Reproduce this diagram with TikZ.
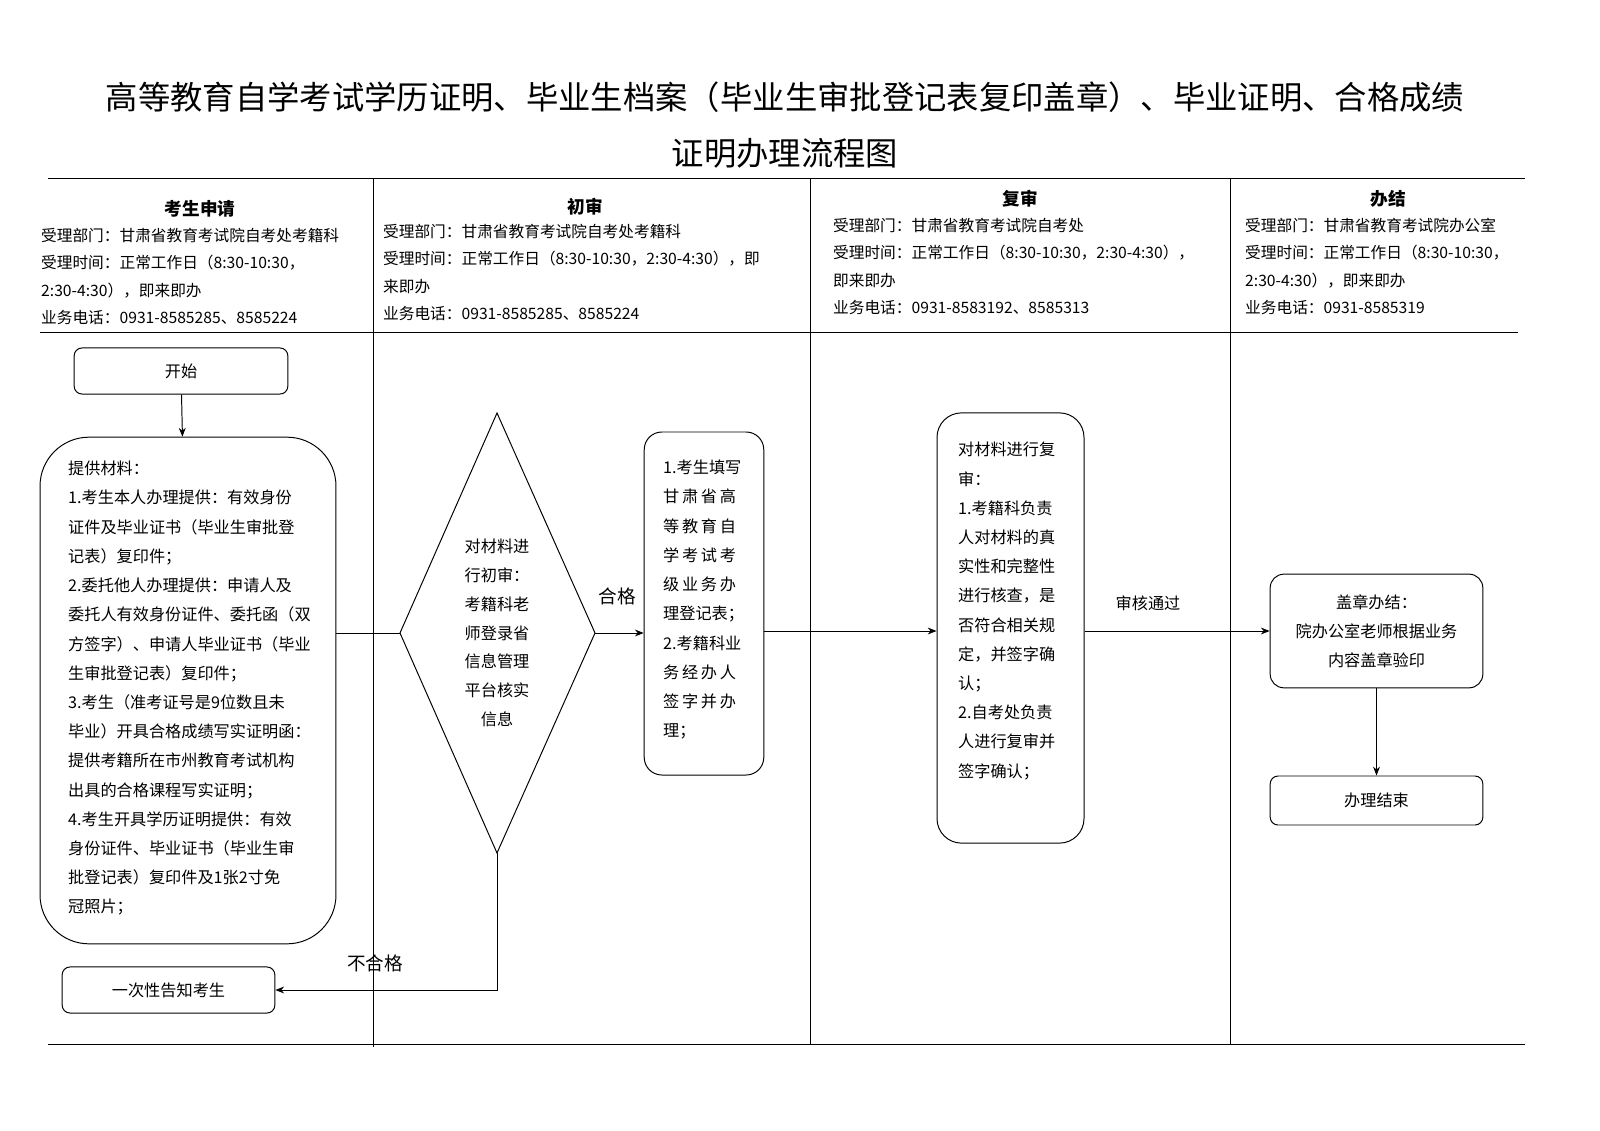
\documentclass[tikz,border=0pt]{standalone}
\usepackage{fontspec}
\setmainfont{Noto Sans CJK SC}
\usetikzlibrary{arrows.meta}
\newcommand{\fsz}[2]{\fontsize{#1}{#2}\selectfont}
\begin{document}
\begin{tikzpicture}[x=1.0204pt,y=-1.0204pt,
  box/.style={draw,line width=1pt,rounded corners=8pt},
  ln/.style={line width=0.9pt},
  arr/.style={line width=1pt,-{Stealth[length=9pt,width=7pt]}},
  body/.style={font=\fsz{16.5}{29.8},align=left,inner sep=0pt},
  col/.style={font=\fsz{16}{28},align=left,inner sep=0pt,anchor=north west},
  hd/.style={font=\fsz{18}{20}\bfseries,inner sep=0pt}]
\node[font=\fsz{33}{36}] (t1) at (785,97) {高等教育自学考试学历证明、毕业生档案（毕业生审批登记表复印盖章）、毕业证明、合格成绩};
\node[font=\fsz{33}{36}] (t2) at (785,153) {证明办理流程图};
\draw[ln] (48,178) -- (1525,178);
\draw[ln] (40,332) -- (1518,332);
\draw[ln] (48,1044) -- (1525,1044);
\draw[ln] (373,178) -- (373,1047);
\draw[ln] (810,178) -- (810,1044);
\draw[ln] (1230,178) -- (1230,1044);
\node[hd] (h1) at (200,209) {考生申请};
\node[hd] (h2) at (585,207) {初审};
\node[hd] (h3) at (1020,199) {复审};
\node[hd] (h4) at (1388,199) {办结};
\node[col] (c1) at (41,228) {受理部门：甘肃省教育考试院自考处考籍科\\受理时间：正常工作日（8:30-10:30，\\2:30-4:30），即来即办\\业务电话：0931-8585285、8585224};
\node[col] (c2) at (383,224) {受理部门：甘肃省教育考试院自考处考籍科\\受理时间：正常工作日（8:30-10:30，2:30-4:30），即\\来即办\\业务电话：0931-8585285、8585224};
\node[col] (c3) at (833,218) {受理部门：甘肃省教育考试院自考处\\受理时间：正常工作日（8:30-10:30，2:30-4:30），\\即来即办\\业务电话：0931-8583192、8585313};
\node[col] (c4) at (1245,218) {受理部门：甘肃省教育考试院办公室\\受理时间：正常工作日（8:30-10:30，\\2:30-4:30），即来即办\\业务电话：0931-8585319};
% nodes
\node[box,minimum width=218pt,minimum height=47pt,font=\fsz{16.5}{18}] (start) at (181,371) {开始};
\node[draw,line width=1pt,rounded corners=50pt,minimum width=302pt,minimum height=517pt] (mat) at (188,690.5) {};
\node[body,anchor=north west] (matt) at (68,461) {提供材料：\\1.考生本人办理提供：有效身份\\证件及毕业证书（毕业生审批登\\记表）复印件；\\2.委托他人办理提供：申请人及\\委托人有效身份证件、委托函（双\\方签字）、申请人毕业证书（毕业\\生审批登记表）复印件；\\3.考生（准考证号是9位数且未\\毕业）开具合格成绩写实证明函：\\提供考籍所在市州教育考试机构\\出具的合格课程写实证明；\\4.考生开具学历证明提供：有效\\身份证件、毕业证书（毕业生审\\批登记表）复印件及1张2寸免\\冠照片；};
\coordinate (dt) at (497,413);
\coordinate (db) at (497,853);
\coordinate (dl) at (400,633);
\coordinate (dr) at (595,633);
\draw[line width=1pt] (dt) -- (dr) -- (db) -- (dl) -- cycle;
\node[body,align=center,font=\fsz{16.5}{29.3}] (dtx) at (497,633) {对材料进\\行初审：\\考籍科老\\师登录省\\信息管理\\平台核实\\信息};
\node[draw,line width=1pt,rounded corners=18pt,minimum width=122pt,minimum height=350pt] (b2) at (704,603.5) {};
\node[body,anchor=north west] (b2t) at (663,460) {1.考生填写\\甘\,肃\,省\,高\\等\,教\,育\,自\\学\,考\,试\,考\\级\,业\,务\,办\\理登记表；\\2.考籍科业\\务\,经\,办\,人\\签\,字\,并\,办\\理；};
\node[draw,line width=1pt,rounded corners=25pt,minimum width=150pt,minimum height=439pt] (b3) at (1010.5,628) {};
\node[body,anchor=north west] (b3t) at (958,442) {对材料进行复\\审：\\1.考籍科负责\\人对材料的真\\实性和完整性\\进行核查，是\\否符合相关规\\定，并签字确\\认；\\2.自考处负责\\人进行复审并\\签字确认；};
\node[box,rounded corners=14pt,minimum width=217pt,minimum height=116pt,align=center,font=\fsz{16.5}{29.6}] (b4) at (1376.5,631) {盖章办结：\\院办公室老师根据业务\\内容盖章验印};
\node[box,minimum width=217pt,minimum height=50pt,font=\fsz{16.5}{18}] (end) at (1376.5,800.5) {办理结束};
\node[box,minimum width=217pt,minimum height=47pt,font=\fsz{16.5}{18}] (fail) at (168.5,990) {一次性告知考生};
\node[font=\fsz{19}{20},inner sep=0pt] (lok) at (617,596) {合格};
\node[font=\fsz{16.5}{18},inner sep=0pt] (lpass) at (1148,603) {审核通过};
\node[font=\fsz{19}{20},inner sep=0pt] (lfail) at (375,963) {不合格};
% connectors
\draw[arr] (start) -- (mat);
\draw[line width=1pt] (mat.east |- dl) -- (dl);
\draw[arr] (dr) -- (b2.west |- dr);
\draw[arr] (b2.east |- 0,631) -- (b3.west |- 0,631);
\draw[arr] (b3.east |- 0,631) -- (b4.west);
\draw[arr] (b4) -- (end);
\draw[arr] (db) -- (497,990) -- (fail.east);
\pgfresetboundingbox
\useasboundingbox (0,0) rectangle (1600,1131);
\end{tikzpicture}
\end{document}
